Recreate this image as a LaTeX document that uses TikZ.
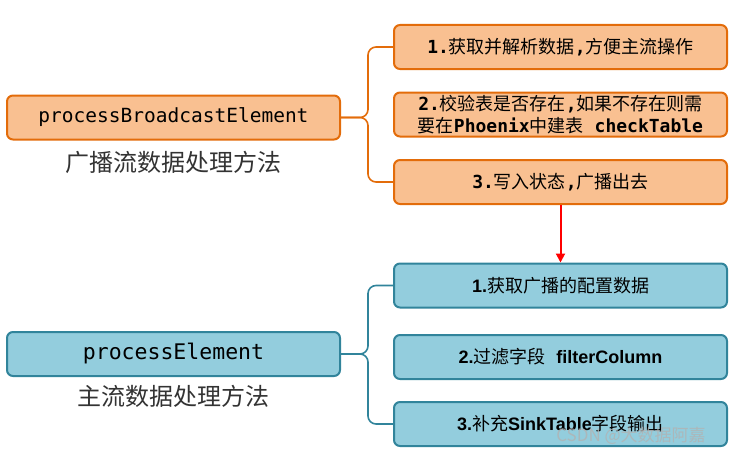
\documentclass[tikz,border=0pt]{standalone}
\usepackage{fontspec}
\setmonofont{DejaVu Sans Mono}
\newfontfamily\cjk{Noto Sans CJK SC}
\newfontfamily\arialfont{Liberation Sans}
\usetikzlibrary{positioning,calc,arrows.meta}
\definecolor{orfill}{HTML}{F9C091}
\definecolor{ordraw}{HTML}{E36C0A}
\definecolor{blfill}{HTML}{93CDDD}
\definecolor{bldraw}{HTML}{31849B}
\newcommand{\zh}[1]{{\cjk #1}}
\newcommand{\mono}[1]{{\ttfamily\bfseries #1}}
\newcommand{\ar}[1]{{\arialfont\bfseries #1}}

\tikzset{
  mainbox/.style={draw, line width=2pt, rounded corners=6pt, minimum width=333pt,
    minimum height=44pt, inner sep=0pt, font=\ttfamily},
  stepbox/.style={draw, line width=2pt, rounded corners=6pt, minimum width=333pt,
    minimum height=44pt, inner sep=0pt, align=center, font=\fontsize{18}{22}\selectfont},
  bcast/.style={fill=orfill, draw=ordraw},
  mainflow/.style={fill=blfill, draw=bldraw},
  caption/.style={font=\cjk\fontsize{24}{28}\selectfont, text=black!80},
  brace/.style={line width=1.6pt, rounded corners=8pt},
}

\begin{document}
\begin{tikzpicture}[x=1pt,y=-1pt]
  \useasboundingbox (0,0) rectangle (733,452);

  % broadcast side
  \node[mainbox,bcast] (pbe) at (173.5,117.5) {\fontsize{19.5}{22}\selectfont processBroadcastElement};
  \node[caption] (pbecap) at (173,162) {广播流数据处理方法};

  \node[stepbox,bcast] (b1) at (560.5,47) {\mono{1.}\zh{获取并解析数据}\mono{,}\zh{方便主流操作}};
  \node[stepbox,bcast] (b2) at (560.5,114.5) {\mono{2.}\zh{校验表是否存在}\mono{,}\zh{如果不存在则需}\\
    \zh{要在}\mono{Phoenix}\zh{中建表}\mono{ checkTable}};
  \node[stepbox,bcast] (b3) at (560.5,182) {\mono{3.}\zh{写入状态}\mono{,}\zh{广播出去}};

  \coordinate (bj) at ($(pbe.east)+(27,0)$);
  \draw[brace,ordraw] (b1.west) -| (bj) -- (pbe.east);
  \draw[brace,ordraw] (b3.west) -| (bj) -- (pbe.east);

  % main flow side
  \node[mainbox,mainflow] (pe) at (173.5,354) {\fontsize{21.5}{24}\selectfont processElement};
  \node[caption] (pecap) at (173,396) {主流数据处理方法};

  \node[stepbox,mainflow] (c1) at (560.5,285.5) {\ar{1.}\zh{获取广播的配置数据}};
  \node[stepbox,mainflow] (c2) at (560.5,357) {\ar{2.}\zh{过滤字段}\ \ \ar{filterColumn}};
  \node[stepbox,mainflow] (c3) at (560.5,424) {\ar{3.}\zh{补充}\ar{SinkTable}\zh{字段输出}};

  \coordinate (cj) at ($(pe.east)+(27,0)$);
  \draw[brace,bldraw] (c1.west) -| (cj) -- (pe.east);
  \draw[brace,bldraw] (c3.west) -| (cj) -- (pe.east);

  \draw[red, line width=2pt, -{Triangle[width=9pt,length=9pt]}] (b3.south) -- (c1.north);

  \node[font=\cjk\fontsize{17}{20}\selectfont, text=gray!60, opacity=0.8] (wm) at (631,436) {CSDN @大数据阿嘉};
\end{tikzpicture}
\end{document}
